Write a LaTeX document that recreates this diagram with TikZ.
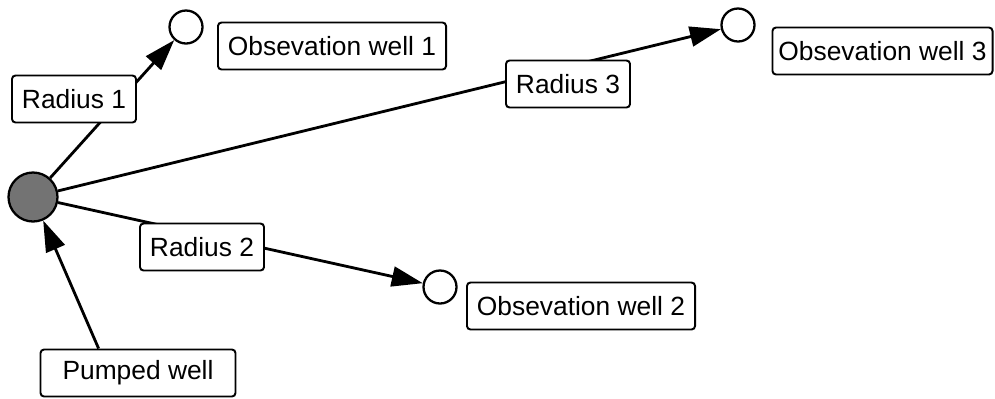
\documentclass[tikz,border=0pt]{standalone}
\usepackage{fontspec}
\setmainfont{Liberation Sans}
\usepackage{tikz}
\usetikzlibrary{arrows.meta,calc}

\begin{document}
\begin{tikzpicture}[
      well/.style={circle, draw, line width=1.3pt, inner sep=0pt,
                   minimum size=0.66cm, fill=white},
      lbl/.style={draw, line width=1.1pt, rounded corners=2pt, fill=white,
                  minimum height=0.94cm, inner xsep=0.2cm,
                  font=\fontsize{15}{18}\selectfont},
      arr/.style={line width=1.6pt,
                  -{Triangle[length=0.62cm, width=0.4cm]}},
    ]
    \useasboundingbox (0,0) rectangle (19.9,-7.96);

    % --- wells ---
    \node[well, minimum size=0.98cm, fill=black!55] (pw) at (0.66,-3.94) {};
    \node[well] (ow1) at (3.72,-0.54) {};
    \node[well] (ow2) at (8.80,-5.74) {};
    \node[well] (ow3) at (14.76,-0.50) {};

    % --- radii ---
    \draw[arr] (pw) -- (ow1);
    \draw[arr] (pw) -- (ow2);
    \draw[arr] (pw) -- (ow3);

    % --- labels ---
    \node[lbl] (r1) at (1.48,-1.98) {Radius 1};
    \node[lbl] (r2) at (4.04,-4.94) {Radius 2};
    \node[lbl] (r3) at (11.36,-1.68) {Radius 3};
    \node[lbl] (ob1) at (6.64,-0.92) {Obsevation well 1};
    \node[lbl] (ob2) at (11.62,-6.12) {Obsevation well 2};
    \node[lbl, inner xsep=0.12cm] (ob3) at (17.65,-1.02) {Obsevation well 3};
    \node[lbl, minimum width=3.9cm] (pwl) at (2.76,-7.46) {Pumped well};

    \draw[arr] ($(pwl.north west)!0.3!(pwl.north east)$) -- (pw);
  \end{tikzpicture}
\end{document}
